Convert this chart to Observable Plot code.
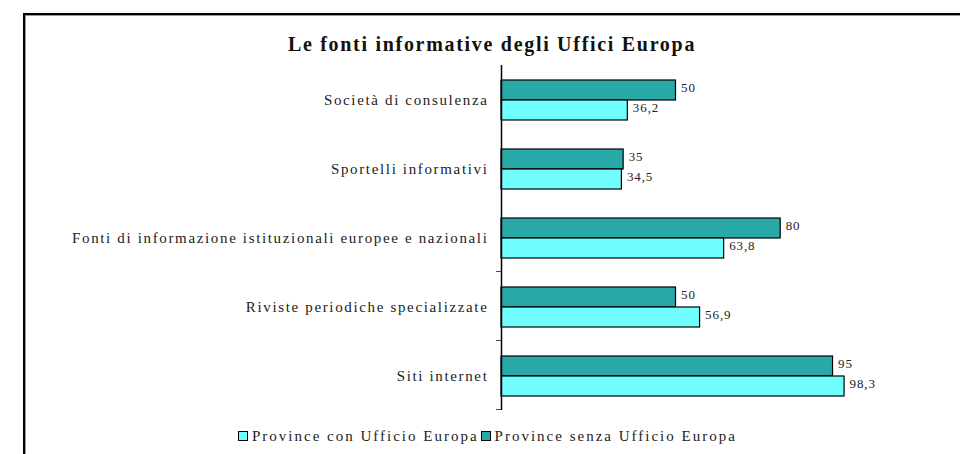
<!DOCTYPE html>
<html>
<head>
<meta charset="utf-8">
<script src="https://cdn.jsdelivr.net/npm/d3@7"></script>
<script src="https://cdn.jsdelivr.net/npm/@observablehq/plot@0.6"></script>
<style>
  body { margin: 0; background: #fff; }
  #wrap { position: relative; width: 960px; height: 454px; overflow: hidden; background: #fff; font-family: "Liberation Serif", "DejaVu Serif", serif; }
  #border { position: absolute; left: 23px; top: 13px; width: 1200px; height: 1000px; border-top: 2px solid #000; border-left: 2px solid #000; box-shadow: inset 1px 1px 0 #999; }
  #title { position: absolute; top: 33px; left: 24px; width: 936px; text-align: center; font-weight: bold; font-size: 20px; line-height: 22px; letter-spacing: 1.7px; color: #111; }
  #chart { position: absolute; top: 0; left: 0; }
  #chart g[aria-label="text"] { letter-spacing: 0.9px; }
  #legend { position: absolute; top: 428px; left: 238px; font-size: 15px; line-height: 17px; color: #222; white-space: nowrap; letter-spacing: 2px; }
  #legend .sw { display: inline-block; width: 8px; height: 8px; border: 1px solid #000; margin-right: 4px; vertical-align: 0px; }
</style>
</head>
<body>
<div id="wrap">
  <div id="border"></div>
  <div id="title"></div>
  <div id="chart"></div>
  <div id="legend"></div>
</div>
<script>
const titleText = "Le fonti informative degli Uffici Europa";
const categories = [
  "Società di consulenza",
  "Sportelli informativi",
  "Fonti di informazione istituzionali europee e nazionali",
  "Riviste periodiche specializzate",
  "Siti internet"
];
const seriesNames = ["Province senza Ufficio Europa", "Province con Ufficio Europa"];
const senzaValues = [50, 35, 80, 50, 95];
const conValues = [36.2, 34.5, 63.8, 56.9, 98.3];
const seriesColors = ["#29a8a8", "#6ffdfd"];
const legendOrder = ["Province con Ufficio Europa", "Province senza Ufficio Europa"];
const boundaryTickCats = [categories[2], categories[3], categories[4]];

const data = [];
categories.forEach((c, i) => {
  data.push({category: c, series: seriesNames[0], value: senzaValues[i]});
  data.push({category: c, series: seriesNames[1], value: conValues[i]});
});
const fmt = v => String(v).replace(".", ",");

document.getElementById("title").textContent = titleText;

const chart = Plot.plot({
  width: 960,
  height: 454,
  marginTop: 63,
  marginBottom: 42,
  marginLeft: 501,
  marginRight: 110,
  style: {fontFamily: "Liberation Serif, serif", fontSize: "15px", background: "transparent", color: "#222"},
  x: {domain: [0, 100], axis: null},
  y: {domain: seriesNames, axis: null, paddingInner: 0, paddingOuter: 0.7},
  fy: {domain: categories, padding: 0, axis: "left", label: null, tickSize: 0, tickPadding: 13},
  color: {domain: seriesNames, range: seriesColors},
  marks: [
    Plot.barX(data, {fy: "category", y: "series", x: "value", fill: "series", stroke: "#000", strokeWidth: 1.2}),
    Plot.text(data, {fy: "category", y: "series", x: "value", text: d => fmt(d.value), textAnchor: "start", dx: 5, dy: -3, fontSize: 13, fill: "#222"}),
    Plot.ruleX([0], {stroke: "#000", strokeWidth: 1.5}),
    Plot.rect(boundaryTickCats, {fy: d => d, x1: 0, x2: 0, insetLeft: -5, insetTop: 68.3, fill: "#000"})
  ]
});
chart.style.letterSpacing = "1.65px";
document.getElementById("chart").appendChild(chart);

const legend = document.getElementById("legend");
legendOrder.forEach((name, i) => {
  const sw = document.createElement("span");
  sw.className = "sw";
  sw.style.background = seriesColors[seriesNames.indexOf(name)];
  const t = document.createElement("span");
  t.textContent = name;
  t.style.marginRight = i === 0 ? "2px" : "0";
  legend.appendChild(sw);
  legend.appendChild(t);
});
</script>
</body>
</html>
